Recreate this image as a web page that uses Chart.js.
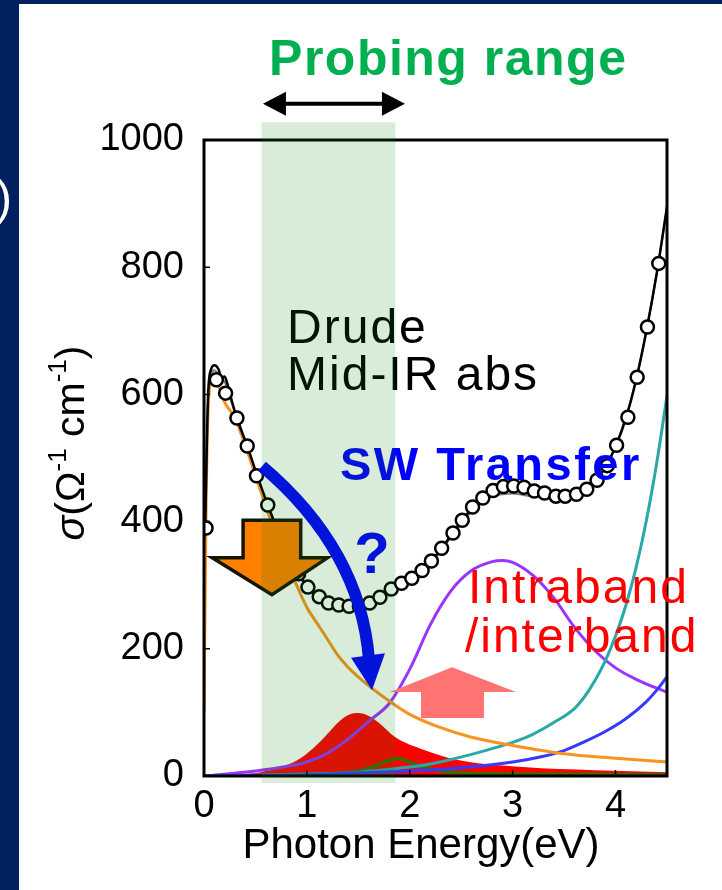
<!DOCTYPE html>
<html>
<head>
<meta charset="utf-8">
<script src="https://cdn.jsdelivr.net/npm/chart.js@4.4.1/dist/chart.umd.min.js"></script>
<style>
  html, body { margin: 0; padding: 0; background: #002060; }
  canvas { display: block; }
</style>
</head>
<body>
<canvas id="chart" width="722" height="890"></canvas>
<script>
const FONT = "'Liberation Sans', Arial, Helvetica, sans-serif";

// measured conductivity (open circles)
const measE = [0.02, 0.12, 0.21, 0.32, 0.42, 0.51, 0.62, 0.72, 0.82, 0.92, 1.01, 1.12, 1.21, 1.31, 1.41, 1.51, 1.61, 1.71, 1.82, 1.92,
  2.02, 2.12, 2.21, 2.31, 2.42, 2.51, 2.61, 2.71, 2.81, 2.91, 3.01, 3.11, 3.21, 3.31, 3.42, 3.51, 3.62, 3.72, 3.82, 3.92,
  4.01, 4.12, 4.21, 4.31, 4.42];
const measSigma = [390, 623, 602, 563, 519, 472, 426, 384, 347, 318, 297, 282, 272, 269, 267, 267, 272, 281, 294, 303,
  311, 323, 338, 358, 382, 402, 423, 437, 449, 455, 456, 454, 448, 445, 440, 440, 443, 451, 465, 488,
  520, 564, 627, 706, 806];

// total fit (black)
const fitE = [0.01, 0.04, 0.07, 0.1, 0.14, 0.17, 0.2, 0.23, 0.27, 0.32, 0.42, 0.52, 0.62, 0.72, 0.82, 0.92, 1.01, 1.1, 1.2, 1.3,
  1.4, 1.5, 1.6, 1.7, 1.8, 1.9, 2.0, 2.1, 2.2, 2.3, 2.4, 2.5, 2.6, 2.7, 2.8, 2.9, 3.0, 3.1, 3.2, 3.3,
  3.4, 3.5, 3.6, 3.7, 3.8, 3.9, 4.0, 4.1, 4.2, 4.3, 4.4, 4.5];
const fitSigma = [380, 600, 640, 646, 640, 626, 628, 615, 590, 563, 519, 471, 426, 385, 348, 318, 297, 283, 273, 268,
  266, 266, 270, 279, 291, 302, 310, 320, 336, 356, 378, 400, 420, 435, 446, 452, 453, 451, 447, 443,
  440, 440, 443, 450, 463, 485, 518, 562, 623, 700, 790, 895];

// raw spectrum (grey, under the fit)
const rawE = [0.01, 0.04, 0.07, 0.1, 0.14, 0.2, 0.27, 0.32, 0.42, 0.52, 0.62, 0.72, 0.82, 0.92, 1.01, 1.2, 1.4, 1.6, 1.8, 2.0,
  2.2, 2.4, 2.6, 2.7, 2.8, 2.9, 3.0, 3.1, 3.2, 3.3, 3.4, 3.5, 3.6, 3.7, 3.8, 3.9, 4.0, 4.2, 4.4, 4.5];
const rawSigma = [370, 590, 632, 638, 632, 620, 586, 560, 517, 470, 425, 384, 347, 317, 296, 272, 265, 269, 290, 309,
  334, 375, 416, 430, 440, 443, 444, 442, 440, 440, 439, 440, 443, 450, 463, 485, 518, 623, 790, 893];

// Drude + mid-IR component (orange)
const drudeE = [0, 0.02, 0.04, 0.07, 0.1, 0.15, 0.2, 0.3, 0.4, 0.5, 0.6, 0.7, 0.8, 0.9, 1.0, 1.1, 1.2, 1.3, 1.4, 1.6,
  1.8, 2.0, 2.3, 2.6, 3.0, 3.5, 4.0, 4.5];
const drudeSigma = [100, 420, 575, 620, 624, 610, 588, 563, 520, 473, 424, 380, 337, 300, 265, 240, 215, 190, 171, 142,
  118, 97, 76, 61, 48, 35, 28, 22];

// band components
const purpleE = [0, 0.5, 0.8, 1.0, 1.2, 1.4, 1.6, 1.8, 2.0, 2.2, 2.4, 2.6, 2.8, 2.9, 3.0, 3.2, 3.4, 3.6, 3.8, 4.0, 4.2, 4.4, 4.5];
const purpleSigma = [0, 8, 15, 22, 36, 58, 86, 114, 168, 238, 291, 323, 337, 339, 336, 315, 280, 234, 197, 170, 152, 138, 132];

const cyanE = [0, 1.0, 1.5, 2.0, 2.2, 2.4, 2.6, 2.8, 3.0, 3.2, 3.4, 3.6, 3.7, 3.8, 3.9, 4.0, 4.1, 4.2, 4.3, 4.4, 4.5];
const cyanSigma = [0, 3, 6, 14, 19, 26, 34, 43, 53, 66, 84, 106, 125, 150, 181, 220, 268, 328, 402, 492, 598];

const blueE = [0, 0.5, 1.0, 1.5, 2.0, 2.5, 3.0, 3.3, 3.5, 3.7, 3.9, 4.1, 4.3, 4.4, 4.5];
const blueSigma = [0, 1, 2, 5, 8, 13, 22, 31, 40, 54, 70, 90, 117, 135, 156];

const redE = [0, 0.3, 0.55, 0.75, 0.91, 1.05, 1.17, 1.33, 1.42, 1.5, 1.58, 1.69, 1.86, 2.14, 2.47, 3.1, 3.8, 4.5];
const redSigma = [0, 2, 6, 14, 25, 42, 61, 88, 97, 99, 96, 85, 61, 41, 25, 14, 9, 6];

const greenE = [0, 1.0, 1.43, 1.55, 1.69, 1.8, 1.88, 1.98, 2.14, 2.3, 2.47, 3.0, 4.5];
const greenSigma = [0, 2, 6, 10, 17, 25, 28, 23, 14, 8, 5, 3, 2];

const xTicks = [0, 1, 2, 3, 4];
const yTicks = [0, 200, 400, 600, 800, 1000];

const pts = (xs, ys) => xs.map((x, i) => ({ x: x, y: ys[i] }));

function lineSet(xs, ys, color, width) {
    return {
        data: pts(xs, ys),
        showLine: true,
        borderColor: color,
        borderWidth: width,
        pointRadius: 0,
        fill: false,
        cubicInterpolationMode: 'monotone'
    };
}

// drawn last = index 0 on top
const datasets = [
    {
        data: pts(measE, measSigma),
        showLine: false,
        pointRadius: 6.5,
        pointBorderWidth: 2.5,
        pointBackgroundColor: '#ffffff',
        pointBorderColor: '#000000'
    },
    lineSet(fitE, fitSigma, '#000000', 2.5),
    lineSet(rawE, rawSigma, '#7a7a7a', 2),
    lineSet(drudeE, drudeSigma, '#f7931e', 3),
    lineSet(blueE, blueSigma, '#3838ff', 3),
    lineSet(cyanE, cyanSigma, '#2aa8a8', 3),
    lineSet(purpleE, purpleSigma, '#9a34ff', 3),
    lineSet(greenE, greenSigma, '#3f6a00', 3.5),
    Object.assign(lineSet(redE, redSigma, '#ff0000', 0), { fill: 'origin', backgroundColor: '#ff0000' })
];

function text(ctx, str, x, y, font, color, spacing, align) {
    ctx.font = font;
    ctx.fillStyle = color;
    ctx.letterSpacing = (spacing || 0) + 'px';
    ctx.textAlign = align || 'left';
    ctx.textBaseline = 'alphabetic';
    ctx.fillText(str, x, y);
    ctx.letterSpacing = '0px';
}

function poly(ctx, p) {
    ctx.beginPath();
    ctx.moveTo(p[0][0], p[0][1]);
    for (let i = 1; i < p.length; i++) ctx.lineTo(p[i][0], p[i][1]);
    ctx.closePath();
}

const decor = {
    id: 'decor',
    beforeDraw(chart) {
        const ctx = chart.ctx;
        ctx.save();
        ctx.fillStyle = '#002060';
        ctx.fillRect(0, 0, chart.width, chart.height);
        ctx.fillStyle = '#ffffff';
        ctx.fillRect(19, 4, chart.width - 19, chart.height - 4);
        text(ctx, ')', 12, 214, '48px ' + FONT, '#ffffff', 0, 'right');
        ctx.restore();
    },
    afterDatasetsDraw(chart) {
        const ctx = chart.ctx;
        const a = chart.chartArea;
        const X = v => chart.scales.x.getPixelForValue(v);
        const Y = v => chart.scales.y.getPixelForValue(v);
        ctx.save();

        // frame + inward ticks
        ctx.strokeStyle = '#000';
        ctx.lineWidth = 3;
        ctx.strokeRect(a.left, a.top, a.right - a.left, a.bottom - a.top);
        ctx.lineWidth = 1.5;
        ctx.beginPath();
        xTicks.forEach(v => { ctx.moveTo(X(v), a.bottom); ctx.lineTo(X(v), a.bottom - 6); });
        yTicks.forEach(v => { ctx.moveTo(a.left, Y(v)); ctx.lineTo(a.left + 6, Y(v)); });
        ctx.stroke();

        // orange down arrow (Drude loss)
        poly(ctx, [[X(0.38), Y(402)], [X(0.94), Y(402)], [X(0.94), Y(343)], [X(1.2), Y(343)],
            [X(0.66), Y(285)], [X(0.08), Y(343)], [X(0.38), Y(343)]]);
        ctx.fillStyle = '#ff8000';
        ctx.fill();
        ctx.strokeStyle = '#141400';
        ctx.lineWidth = 3.5;
        ctx.lineJoin = 'miter';
        ctx.stroke();

        // pink up arrow
        poly(ctx, [[X(2.109), Y(91)], [X(2.721), Y(91)], [X(2.721), Y(132)], [X(3.032), Y(132)],
            [X(2.41), Y(171)], [X(1.808), Y(132)], [X(2.109), Y(132)]]);
        ctx.fillStyle = '#ff7373';
        ctx.fill();

        // blue curved arrow (spectral weight transfer)
        ctx.strokeStyle = '#0000ff';
        ctx.lineWidth = 12;
        ctx.lineCap = 'butt';
        ctx.beginPath();
        ctx.moveTo(X(0.564), Y(487));
        ctx.quadraticCurveTo(X(1.521), Y(356), X(1.604), Y(182));
        ctx.stroke();
        poly(ctx, [[X(1.429), Y(186)], [X(1.759), Y(193)], [X(1.633), Y(135)]]);
        ctx.fillStyle = '#0000ff';
        ctx.fill();

        // labels
        text(ctx, 'Drude', X(0.807), Y(681), '48px ' + FONT, '#000', 2);
        text(ctx, 'Mid-IR abs', X(0.807), Y(607), '48px ' + FONT, '#000', 2);
        text(ctx, 'SW Transfer', X(1.322), Y(465), 'bold 47px ' + FONT, '#0000ff', 2.5);
        text(ctx, '?', X(1.633), Y(319), 'bold 58px ' + FONT, '#0000ff', 0, 'center');
        text(ctx, 'Intraband', X(2.566), Y(272), '48px ' + FONT, '#ff0000', 2);
        text(ctx, '/interband', X(2.536), Y(195), '48px ' + FONT, '#ff0000', 2);

        // probing range header
        text(ctx, 'Probing range', X(0.632), Y(1102), 'bold 50px ' + FONT, '#00b050', 1.5);
        const ay = Y(1057), x0 = X(0.573), x1 = X(1.953);
        ctx.strokeStyle = '#000';
        ctx.lineWidth = 4;
        ctx.beginPath();
        ctx.moveTo(x0 + 20, ay);
        ctx.lineTo(x1 - 20, ay);
        ctx.stroke();
        ctx.fillStyle = '#000';
        poly(ctx, [[x0, ay], [x0 + 23, ay - 12], [x0 + 23, ay + 12]]);
        ctx.fill();
        poly(ctx, [[x1, ay], [x1 - 23, ay - 12], [x1 - 23, ay + 12]]);
        ctx.fill();

        // axis titles
        text(ctx, 'Photon Energy(eV)', 421, 858, '42px ' + FONT, '#000', 0, 'center');
        const parts = [
            { t: 'σ', f: 'italic 41px ' + FONT, dy: 0 },
            { t: '(Ω', f: '41px ' + FONT, dy: 0 },
            { t: '-1', f: '26px ' + FONT, dy: -18 },
            { t: ' cm', f: '41px ' + FONT, dy: 0 },
            { t: '-1', f: '26px ' + FONT, dy: -18 },
            { t: ')', f: '41px ' + FONT, dy: 0 }
        ];
        let total = 0;
        parts.forEach(p => { ctx.font = p.f; p.w = ctx.measureText(p.t).width; total += p.w; });
        ctx.translate(84, 443);
        ctx.rotate(-Math.PI / 2);
        let cx = -total / 2;
        parts.forEach(p => { text(ctx, p.t, cx, p.dy, p.f, '#000'); cx += p.w; });
        ctx.restore();
    },
    afterDraw(chart) {
        // translucent probing-range band over everything
        const ctx = chart.ctx;
        const X = v => chart.scales.x.getPixelForValue(v);
        const Y = v => chart.scales.y.getPixelForValue(v);
        ctx.save();
        ctx.fillStyle = 'rgba(13, 127, 13, 0.157)';
        ctx.fillRect(X(0.56), Y(1028), X(1.86) - X(0.56), Y(-11) - Y(1028));
        ctx.restore();
    }
};

const tickFont = { family: FONT, size: 38 };

new Chart(document.getElementById('chart'), {
    type: 'line',
    data: { datasets: datasets },
    options: {
        responsive: false,
        animation: false,
        layout: { padding: { top: 140, right: 55, left: 0, bottom: 0 } },
        plugins: { legend: { display: false }, tooltip: { enabled: false } },
        scales: {
            x: {
                type: 'linear',
                min: 0,
                max: 4.5,
                afterFit(s) { s.height = 114; },
                grid: { display: false },
                border: { display: false },
                ticks: { stepSize: 1, includeBounds: false, font: tickFont, color: '#000', padding: 0, maxRotation: 0, callback: v => String(v) }
            },
            y: {
                min: 0,
                max: 1000,
                afterFit(s) { s.width = 204; },
                grid: { display: false },
                border: { display: false },
                ticks: { stepSize: 200, font: tickFont, color: '#000', padding: 12, callback: v => String(v) }
            }
        }
    },
    plugins: [decor]
});
</script>
</body>
</html>
